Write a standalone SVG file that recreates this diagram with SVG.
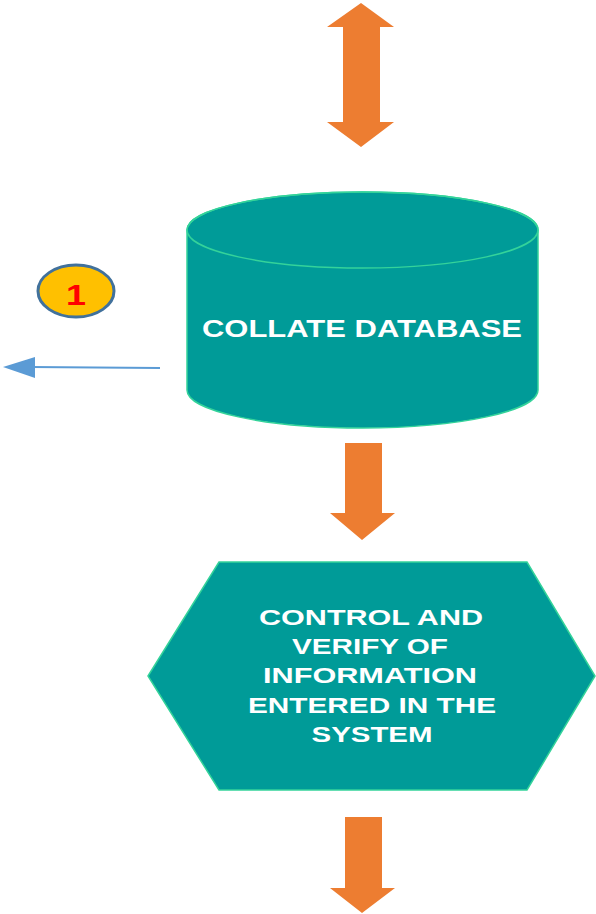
<svg xmlns="http://www.w3.org/2000/svg" width="596" height="914" viewBox="0 0 596 914">
<style>
.arrow{fill:#ED7D31;}
.shape{fill:#009B98;stroke:#34D39A;stroke-width:1.5;}
.lbl{font-family:"Liberation Sans",Arial,sans-serif;font-weight:bold;fill:#FFFFFF;text-anchor:middle;}
</style>
<rect width="596" height="914" fill="#FFFFFF"/>
<g id="connectors">
<polygon class="arrow" points="361,3 394,27 380,27 380,122 394,122 361,147 327,122 343,122 343,27 327,27"/>
<polygon class="arrow" points="345,443 382,443 382,513 395,513 362,540 330,513 345,513"/>
<polygon class="arrow" points="345,817 382,817 382,888 395,888 362,913 330,888 345,888"/>
<line x1="160" y1="368" x2="30" y2="367" stroke="#5B9BD5" stroke-width="2"/>
<polygon points="3,367 35,357 35,378" fill="#5B9BD5"/>
</g>
<g id="badge">
<ellipse cx="76" cy="291" rx="38" ry="26" fill="#FFC000" stroke="#41719C" stroke-width="3"/>
<text x="76" y="305" font-family="Liberation Sans,Arial,sans-serif" font-weight="bold" font-size="30" fill="#FF0000" text-anchor="middle" textLength="20" lengthAdjust="spacingAndGlyphs">1</text>
</g>
<g id="collate">
<path class="shape" d="M187,230 A175.5,38 0 0 1 538,230 L538,390 A175.5,38 0 0 1 187,390 Z"/>
<ellipse cx="362.5" cy="230" rx="175.5" ry="38" fill="none" stroke="#34D39A" stroke-width="1.5"/>
<text class="lbl" x="362" y="337" font-size="24" textLength="320" lengthAdjust="spacingAndGlyphs">COLLATE DATABASE</text>
</g>
<g id="control">
<polygon class="shape" points="148,676 219,562 527,562 595,676 527,790 219,790"/>
<text class="lbl" x="371" y="625" font-size="22" textLength="224" lengthAdjust="spacingAndGlyphs">CONTROL AND</text>
<text class="lbl" x="370" y="654" font-size="22" textLength="156" lengthAdjust="spacingAndGlyphs">VERIFY OF</text>
<text class="lbl" x="370" y="683" font-size="22" textLength="214" lengthAdjust="spacingAndGlyphs">INFORMATION</text>
<text class="lbl" x="372" y="713" font-size="22" textLength="248" lengthAdjust="spacingAndGlyphs">ENTERED IN THE</text>
<text class="lbl" x="372" y="742" font-size="22" textLength="121" lengthAdjust="spacingAndGlyphs">SYSTEM</text>
</g>
</svg>
